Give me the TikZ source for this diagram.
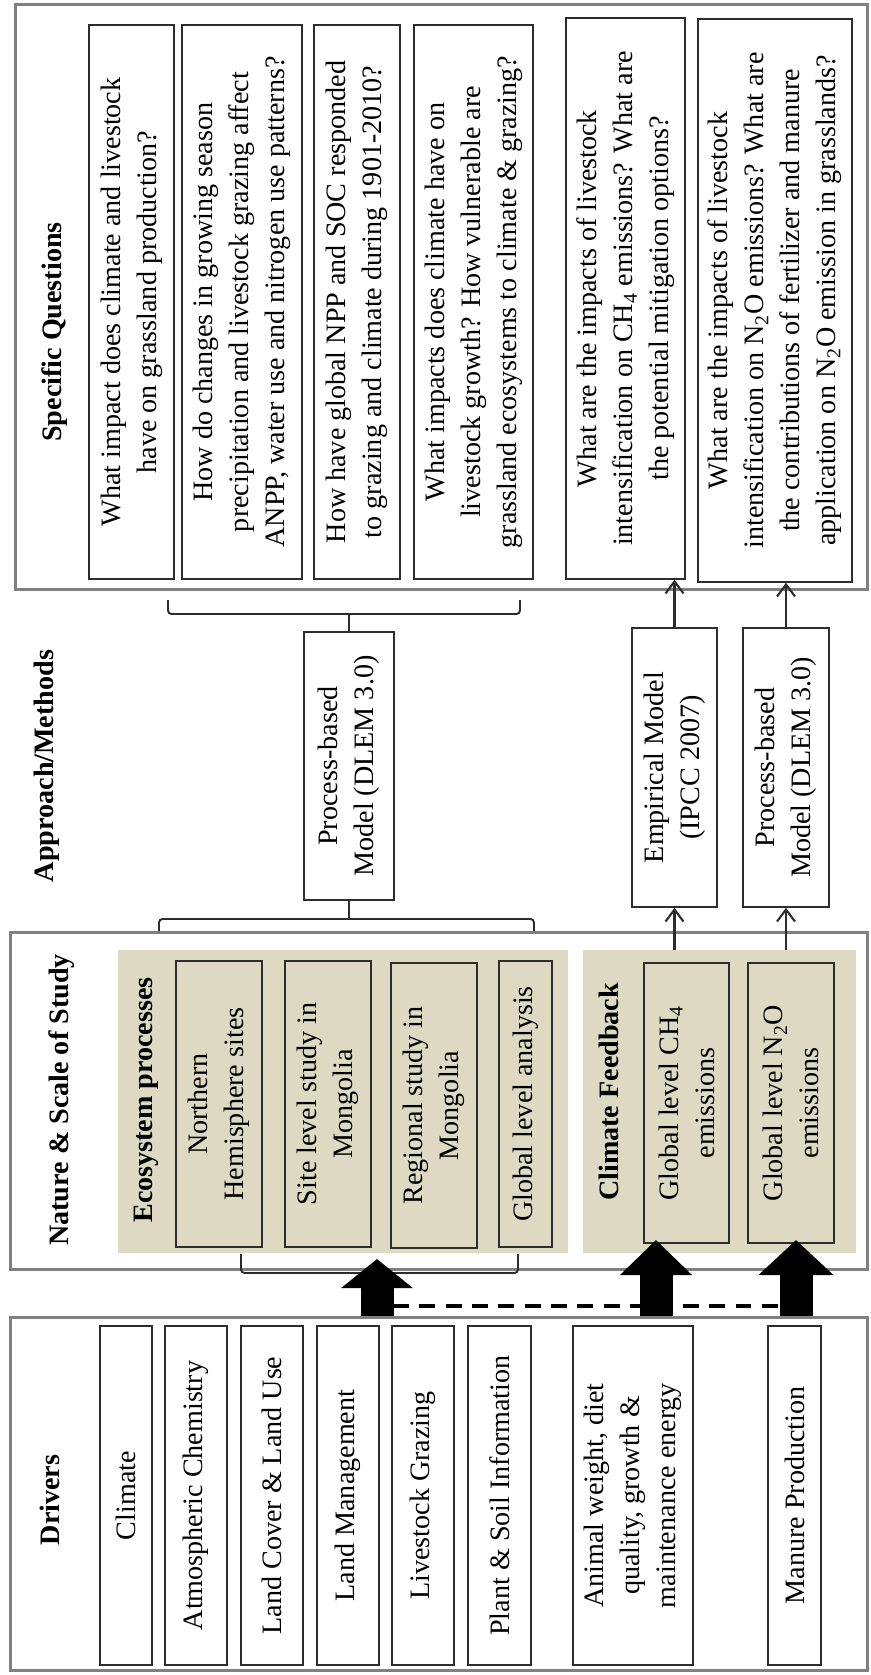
\documentclass[tikz,border=0pt]{standalone}
\usepackage{fontspec}
\setmainfont{Liberation Serif}
\usepackage{tikz}
\usetikzlibrary{arrows.meta,positioning,calc}
\definecolor{framegray}{RGB}{128,128,128}
\definecolor{panelbeige}{RGB}{221,217,195}
\definecolor{boxdark}{RGB}{45,45,45}

\begin{document}
\begin{tikzpicture}[x=0.02cm,y=-0.02cm,
  every node/.style={font=\fontsize{16}{20.5}\selectfont},
  frame/.style={draw=framegray,line width=1.7pt,inner sep=0pt},
  vbox/.style={draw=boxdark,line width=0.9pt,fill=white,rotate=90,align=center,inner sep=0pt},
  pbox/.style={vbox,fill=panelbeige,line width=1.1pt},
  panel/.style={fill=panelbeige,inner sep=0pt},
  head/.style={rotate=90,font=\fontsize{16}{20.5}\selectfont\bfseries},
  brace/.style={draw=boxdark,line width=1.1pt,rounded corners=2pt},
  arc/.style={-{Straight Barb[length=0.24cm,width=0.36cm]},line width=1.2pt,draw=boxdark},
  bigarc/.style={-{Triangle[length=0.58cm,width=1.4cm]},line width=0.66cm}
]
\useasboundingbox (0,0) rectangle (871,1675);

% section frames
\node[frame,minimum width=17.06cm,minimum height=11.72cm] (sq) at (441.5,297) {};
\node[frame,minimum width=17.16cm,minimum height=6.76cm] (nat) at (439,1101) {};
\node[frame,minimum width=17.16cm,minimum height=7.08cm] (drv) at (439,1494) {};

\node[head] (hsq) at (55,332) {Specific Questions};
\node[head] (ham) at (47,766) {Approach/Methods};
\node[head] (hnat) at (62,1100) {Nature \& Scale of Study};
\node[head] (hdrv) at (50,1500) {Drivers};

% specific questions
\node[vbox,minimum width=11.08cm,minimum height=1.70cm] (q1) at (131.5,302)
  {What impact does climate and livestock\\have on grassland production?};
\node[vbox,minimum width=11.08cm,minimum height=2.40cm] (q2) at (242,302)
  {How do changes in growing season\\precipitation and livestock grazing affect\\ANPP, water use and nitrogen use patterns?};
\node[vbox,minimum width=11.08cm,minimum height=1.72cm] (q3) at (357,302)
  {How have global NPP and SOC responded\\to grazing and climate during 1901-2010?};
\node[vbox,minimum width=11.08cm,minimum height=2.38cm] (q4) at (473.5,302)
  {What impacts does climate have on\\livestock growth? How vulnerable are\\grassland ecosystems to climate \& grazing?};
\node[vbox,minimum width=11.22cm,minimum height=2.38cm] (q5) at (625.5,298.5)
  {What are the impacts of livestock\\intensification on CH\textsubscript{4} emissions? What are\\the potential mitigation options?};
\node[vbox,minimum width=11.26cm,minimum height=3.08cm] (q6) at (775,300.5)
  {What are the impacts of livestock\\intensification on N\textsubscript{2}O emissions? What are\\the contributions of fertilizer and manure\\application on N\textsubscript{2}O emission in grasslands?};

% approach / methods
\node[vbox,minimum width=5.36cm,minimum height=1.80cm] (p1) at (349,766) {Process-based\\Model (DLEM 3.0)};
\node[vbox,minimum width=5.58cm,minimum height=1.70cm] (emp) at (674.5,767.5) {Empirical Model\\(IPCC 2007)};
\node[vbox,minimum width=5.58cm,minimum height=1.72cm] (p2) at (786,767.5) {Process-based\\Model (DLEM 3.0)};

\draw[brace] (168,600) |- (520,614) -- (520,600);
\draw[brace] (p1.east) -- (p1.east |- 0,614);
\draw[brace] (159,931) |- (534,919) -- (534,931);
\draw[brace] (p1.west) -- (p1.west |- 0,919);

% nature and scale of study
\node[panel,minimum width=9.00cm,minimum height=6.06cm] (eco) at (343,1101.5) {};
\node[panel,minimum width=5.46cm,minimum height=6.06cm] (cf) at (719.5,1101.5) {};
\node[head] (heco) at (146,1100) {Ecosystem processes};
\node[head] (hcf) at (609,1092) {Climate Feedback};

\node[pbox,minimum width=5.72cm,minimum height=1.72cm] (nh) at (219,1104) {Northern\\Hemisphere sites};
\node[pbox,minimum width=5.72cm,minimum height=1.72cm] (site) at (328,1104) {Site level study in\\Mongolia};
\node[pbox,minimum width=5.70cm,minimum height=1.72cm] (reg) at (434,1105.5) {Regional study in\\Mongolia};
\node[pbox,minimum width=5.72cm,minimum height=1.06cm] (glob) at (525.5,1104) {Global level analysis};
\node[pbox,minimum width=5.60cm,minimum height=1.70cm] (ch4) at (686.5,1103) {Global level CH\textsubscript{4}\\emissions};
\node[pbox,minimum width=5.60cm,minimum height=1.72cm] (n2o) at (791,1103) {Global level N\textsubscript{2}O\\emissions};

\draw[brace] (241,1254) |- (518,1273) -- (518,1254);

\draw[arc] (emp.west |- cf.north) -- (emp.west);
\draw[arc] (p2.west |- cf.north) -- (p2.west);
\draw[arc] (emp.east) -- (emp.east |- q5.west);
\draw[arc] (p2.east) -- (p2.east |- q6.west);

% drivers
\node[vbox,minimum width=6.78cm,minimum height=1.04cm] (clim) at (126,1495.5) {Climate};
\node[vbox,minimum width=6.78cm,minimum height=1.24cm] (atm) at (196,1495.5) {Atmospheric Chemistry};
\node[vbox,minimum width=6.78cm,minimum height=1.24cm] (lcl) at (272,1495.5) {Land Cover \& Land Use};
\node[vbox,minimum width=6.78cm,minimum height=1.24cm] (mgmt) at (348,1495.5) {Land Management};
\node[vbox,minimum width=6.78cm,minimum height=1.24cm] (graz) at (423,1495.5) {Livestock Grazing};
\node[vbox,minimum width=6.78cm,minimum height=1.26cm] (soil) at (499.5,1495.5) {Plant \& Soil Information};
\node[vbox,minimum width=6.78cm,minimum height=2.40cm] (anim) at (633,1495.5)
  {Animal weight, diet\\quality, growth \&\\maintenance energy};
\node[vbox,minimum width=6.78cm,minimum height=1.06cm] (man) at (794.5,1495.5) {Manure Production};

\coordinate (t1) at (377,1259);
\coordinate (t2) at (656,1240);
\coordinate (t3) at (796,1240);
\draw[line width=2pt,dash pattern=on 9pt off 6pt] (393,1306) -- (814,1306);
\draw[bigarc] (t1 |- drv.north) -- (t1);
\draw[bigarc,-{Triangle[length=0.70cm,width=1.40cm]}] (t2 |- drv.north) -- (t2);
\draw[bigarc,-{Triangle[length=0.70cm,width=1.46cm]}] (t3 |- drv.north) -- (t3);
\end{tikzpicture}
\end{document}
